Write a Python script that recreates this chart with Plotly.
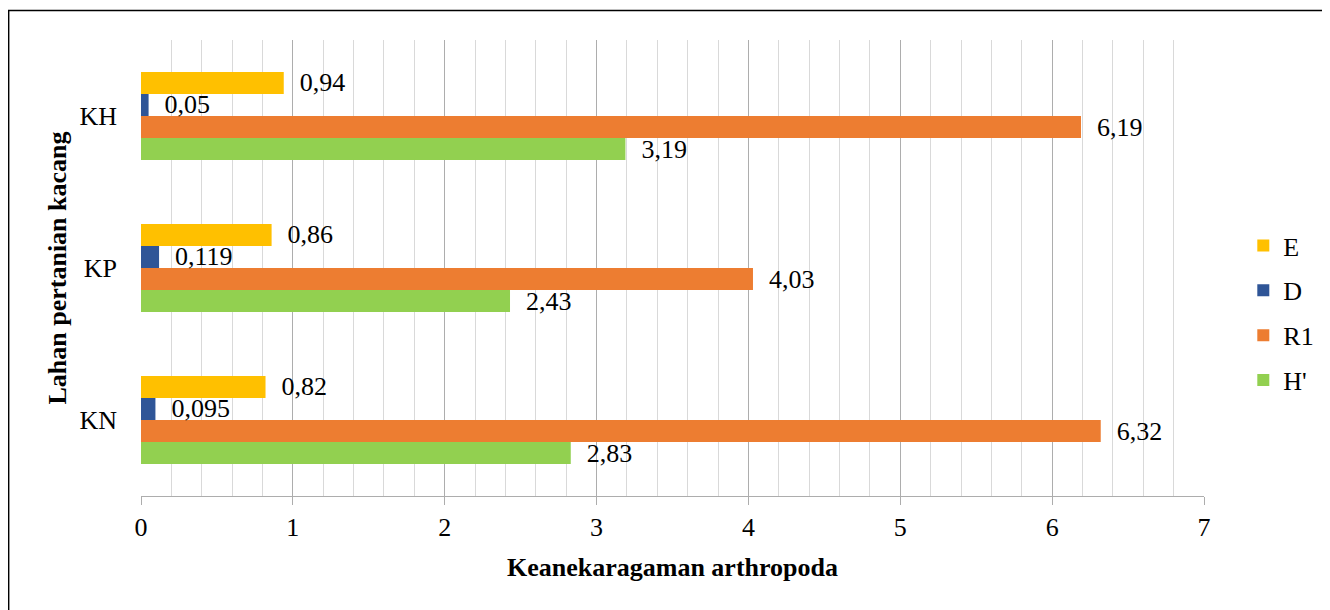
import plotly.graph_objects as go

categories = ["KN", "KP", "KH"]
series_names = ["H'", "R1", "D", "E"]
h_vals = [2.83, 2.43, 3.19]
r1_vals = [6.32, 4.03, 6.19]
d_vals = [0.095, 0.119, 0.05]
e_vals = [0.82, 0.86, 0.94]
colors = {"H'": "#92D050", "R1": "#ED7D31", "D": "#2F5597", "E": "#FFC000"}
legend_rank = {"E": 1, "D": 2, "R1": 3, "H'": 4}
x_ticks = [0, 1, 2, 3, 4, 5, 6, 7]

values = {"H'": h_vals, "R1": r1_vals, "D": d_vals, "E": e_vals}
FONT = "Liberation Serif, Times New Roman, serif"
FS = 26


def fmt(v):
    return "  " + str(v).replace(".", ",")


fig = go.Figure()
for name in series_names:
    vals = values[name]
    fig.add_trace(go.Bar(
        y=categories, x=vals, name=name, orientation="h",
        marker=dict(color=colors[name], line=dict(width=0)),
        text=[fmt(v) for v in vals], textposition="outside",
        textfont=dict(family=FONT, size=FS, color="black"),
        constraintext="none", cliponaxis=False,
        legendgroup=name, legendrank=legend_rank[name],
    ))

fig.update_layout(
    width=1322, height=602,
    margin=dict(l=133, r=125, t=32, b=114),
    paper_bgcolor="white", plot_bgcolor="white",
    barmode="group", bargap=0.42, bargroupgap=0,
    font=dict(family=FONT, size=FS, color="black"),
    showlegend=True,
    legend=dict(traceorder="grouped", tracegroupgap=8,
                x=1.036, y=0.401, xanchor="left", yanchor="middle",
                font=dict(family=FONT, size=FS, color="black"),
                itemwidth=30),
    xaxis=dict(range=[0, 7], tickvals=x_ticks, ticktext=[str(t) for t in x_ticks],
               showgrid=True, gridcolor="#ADADAD", gridwidth=1,
               minor=dict(dtick=0.2, showgrid=True, gridcolor="#D9D9D9", gridwidth=1),
               zeroline=False, showline=True, linecolor="#ADADAD", linewidth=1,
               ticks="outside", ticklen=8, tickcolor="#ADADAD",
               ticklabelstandoff=0,
               tickfont=dict(family=FONT, size=FS, color="black"),
               title=dict(text="<b>Keanekaragaman arthropoda</b>", standoff=16,
                          font=dict(family=FONT, size=FS, color="black"))),
    yaxis=dict(showgrid=False, zeroline=False, showline=False,
               ticks="", ticklabelstandoff=23,
               tickfont=dict(family=FONT, size=FS, color="black"),
               title=dict(text="<b>Lahan pertanian kacang</b>", standoff=5,
                          font=dict(family=FONT, size=FS, color="black"))),
    shapes=[dict(type="rect", xref="paper", yref="paper",
                 x0=-0.1245, x1=1.2, y0=-0.3, y1=1.0647,
                 line=dict(color="black", width=1.5), fillcolor="rgba(0,0,0,0)",
                 layer="below")],
)

fig.write_html("out.html")
